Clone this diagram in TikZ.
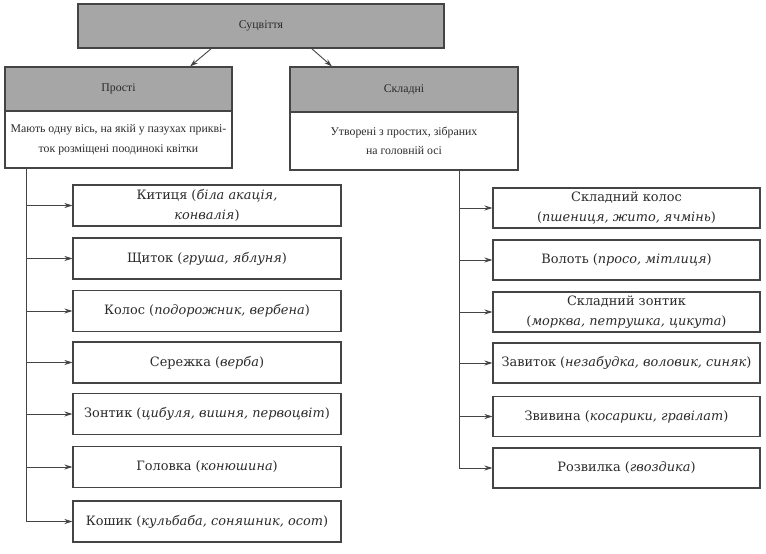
\documentclass[tikz,border=0pt]{standalone}
\usepackage{fontspec}
\setmainfont{Liberation Serif}
\newfontfamily\itemfont{DejaVu Serif}
\usetikzlibrary{arrows.meta}
\definecolor{hdrfill}{HTML}{A6A6A6}
\definecolor{edge}{HTML}{444444}
\definecolor{ink}{HTML}{2A2A2A}
\tikzset{
  box/.style={draw=edge, line width=1.1pt, text=ink, align=center, inner sep=0pt,
    font=\fontsize{11.8}{19.5}\selectfont},
  hdr/.style={box, fill=hdrfill},
  itembox/.style={box, font=\itemfont\fontsize{12.9}{20.5}\selectfont},
  conn/.style={draw=edge, line width=0.9pt},
  arr/.style={conn, -{Stealth[length=8pt,width=5pt]}}
}
\begin{document}
\begin{tikzpicture}[x=1pt,y=-1pt]
\useasboundingbox (0,0) rectangle (766,554);
% top
\node[hdr, minimum width=366pt, minimum height=44pt] (top) at (261,26) {Суцвіття};
% column headers and descriptions
\node[hdr, minimum width=227pt, minimum height=44pt] (pH) at (118.5,89) {Прості};
\node[box, minimum width=227pt, minimum height=57pt] (pD) at (118.5,139.5) {Мають одну вісь, на якій у пазухах прикві-\\ток розміщені поодинокі квітки};
\node[hdr, minimum width=228pt, minimum height=45pt] (sH) at (404,89.5) {Складні};
\node[box, minimum width=228pt, minimum height=58pt] (sD) at (404,141) {Утворені з простих, зібраних\\на головній осі};
% arrows from top
\draw[arr] (212,48) -- (pH.north -| 190,0);
\draw[arr] (311,48) -- (sH.north -| 332,0);
% left boxes
\begin{scope}[every node/.style={itembox, minimum width=268pt, minimum height=41pt}]
\node (l1) at (207,205.5) {Китиця (\textit{біла акація,}\\\textit{конвалія})};
\node (l2) at (207,258.5) {Щиток (\textit{груша, яблуня})};
\node (l3) at (207,311) {Колос (\textit{подорожник, вербена})};
\node (l4) at (207,362.5) {Сережка (\textit{верба})};
\node (l5) at (207,414) {Зонтик (\textit{цибуля, вишня, первоцвіт})};
\node (l6) at (207,467) {Головка (\textit{конюшина})};
\node (l7) at (207,521.5) {Кошик (\textit{кульбаба, соняшник, осот})};
\end{scope}
% right boxes
\begin{scope}[every node/.style={itembox, minimum width=267pt, minimum height=40pt}]
\node (r1) at (626.5,208) {Складний колос\\(\textit{пшениця, жито, ячмінь})};
\node (r2) at (626.5,260) {Волоть (\textit{просо, мітлиця})};
\node (r3) at (626.5,312) {Складний зонтик\\(\textit{морква, петрушка, цикута})};
\node (r4) at (626.5,363) {Завиток (\textit{незабудка, воловик, синяк})};
\node (r5) at (626.5,416.5) {Звивина (\textit{косарики, гравілат})};
\node (r6) at (626.5,468) {Розвилка (\textit{гвоздика})};
\end{scope}
% left trunk
\coordinate (lt) at (26,168);
\draw[conn] (lt) -- (lt |- l7.west);
\foreach \n in {l1,l2,l3,l4,l5,l6,l7}{\draw[arr] (lt |- \n.west) -- (\n.west);}
% right trunk
\coordinate (rt) at (459,170);
\draw[conn] (rt) -- (rt |- r6.west);
\foreach \n in {r1,r2,r3,r4,r5,r6}{\draw[arr] (rt |- \n.west) -- (\n.west);}
\end{tikzpicture}
\end{document}
